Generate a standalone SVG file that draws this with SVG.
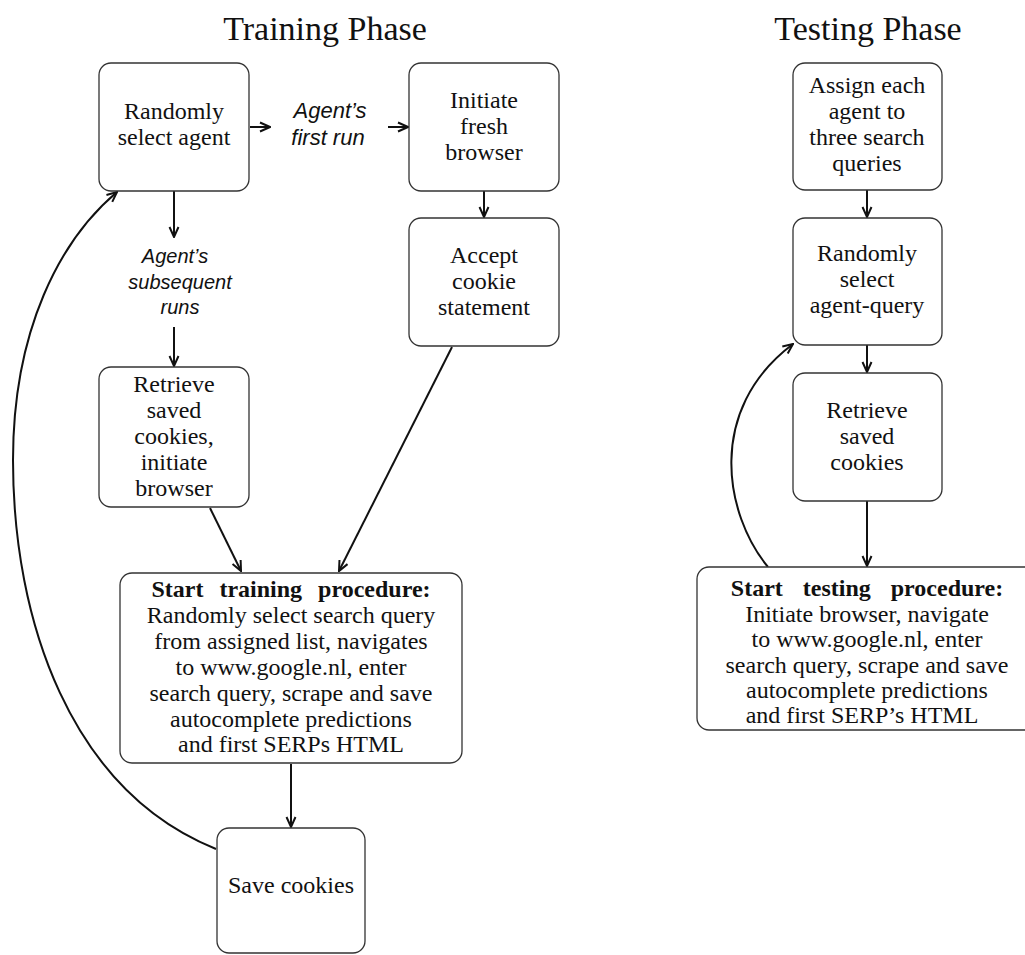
<svg xmlns="http://www.w3.org/2000/svg" width="1025" height="955" viewBox="0 0 1025 955">
<defs>
<style>
.box{fill:#fff;stroke:#333;stroke-width:1.3}
.t{font-family:"Liberation Serif","Times New Roman",serif;font-size:24px;fill:#111;text-anchor:middle}
.b{font-weight:bold}
.lab{font-family:"Liberation Sans",Arial,sans-serif;font-size:20px;font-style:italic;fill:#111;text-anchor:middle}
.big{font-size:22px}
.title{font-family:"Liberation Serif","Times New Roman",serif;font-size:34px;fill:#111;text-anchor:middle}
.c{fill:none;stroke:#111;stroke-width:2}
</style>
<marker id="ah" viewBox="0 0 12 12" refX="11" refY="6" markerWidth="12" markerHeight="12" markerUnits="userSpaceOnUse" orient="auto">
<path d="M1,1.5 L11,6 L1,10.5" fill="none" stroke="#111" stroke-width="2"/>
</marker>
</defs>
<rect width="1025" height="955" fill="#fff"/>
<text class="title" x="325" y="40">Training Phase</text>
<text class="title" x="868" y="40">Testing Phase</text>

<g id="connectors">
<line class="c" x1="250" y1="127" x2="270" y2="127" marker-end="url(#ah)"/>
<line class="c" x1="388" y1="127" x2="408" y2="127" marker-end="url(#ah)"/>
<line class="c" x1="484" y1="191" x2="484" y2="217" marker-end="url(#ah)"/>
<line class="c" x1="174" y1="191" x2="174" y2="237" marker-end="url(#ah)"/>
<line class="c" x1="174" y1="327" x2="174" y2="366" marker-end="url(#ah)"/>
<line class="c" x1="210" y1="508" x2="241" y2="571" marker-end="url(#ah)"/>
<line class="c" x1="452" y1="347" x2="339" y2="571" marker-end="url(#ah)"/>
<line class="c" x1="291" y1="764" x2="291" y2="827" marker-end="url(#ah)"/>
<path class="c" d="M216,849 C70,790 13,620 13,460 C13,330 60,240 117,192" marker-end="url(#ah)"/>
<line class="c" x1="867" y1="190" x2="867" y2="217" marker-end="url(#ah)"/>
<line class="c" x1="867" y1="345" x2="867" y2="372" marker-end="url(#ah)"/>
<line class="c" x1="867" y1="501" x2="867" y2="566" marker-end="url(#ah)"/>
<path class="c" d="M768,567 C725,515 705,410 793,344" marker-end="url(#ah)"/>
<text class="lab big" x="330" y="118">Agent’s</text>
<text class="lab big" x="328" y="145">first run</text>
<text class="lab" x="175" y="263">Agent’s</text>
<text class="lab" x="180" y="289">subsequent</text>
<text class="lab" x="180" y="314">runs</text>
</g>

<g id="n-select-agent">
<rect class="box" x="99" y="63" width="150" height="128" rx="12"/>
<text class="t" x="174" y="119">Randomly</text>
<text class="t" x="174" y="145">select agent</text>
</g>
<g id="n-fresh-browser">
<rect class="box" x="409" y="63" width="150" height="128" rx="12"/>
<text class="t" x="484" y="108">Initiate</text>
<text class="t" x="484" y="134">fresh</text>
<text class="t" x="484" y="160">browser</text>
</g>
<g id="n-accept-cookie">
<rect class="box" x="409" y="218" width="150" height="128" rx="12"/>
<text class="t" x="484" y="263">Accept</text>
<text class="t" x="484" y="289">cookie</text>
<text class="t" x="484" y="315">statement</text>
</g>
<g id="n-retrieve-train">
<rect class="box" x="99" y="367" width="150" height="140" rx="12"/>
<text class="t" x="174" y="392">Retrieve</text>
<text class="t" x="174" y="418">saved</text>
<text class="t" x="174" y="444">cookies,</text>
<text class="t" x="174" y="470">initiate</text>
<text class="t" x="174" y="496">browser</text>
</g>
<g id="n-training">
<rect class="box" x="120" y="573" width="342" height="190" rx="12"/>
<text class="t b" x="291" y="597" word-spacing="10">Start training procedure:</text>
<text class="t" x="291" y="623">Randomly select search query</text>
<text class="t" x="291" y="649">from assigned list, navigates</text>
<text class="t" x="291" y="675">to www.google.nl, enter</text>
<text class="t" x="291" y="701">search query, scrape and save</text>
<text class="t" x="291" y="727">autocomplete predictions</text>
<text class="t" x="291" y="752">and first SERPs HTML</text>
</g>
<g id="n-save-cookies">
<rect class="box" x="217" y="828" width="148" height="125" rx="12"/>
<text class="t" x="291" y="893">Save cookies</text>
</g>

<g id="n-assign">
<rect class="box" x="793" y="63" width="149" height="127" rx="12"/>
<text class="t" x="867" y="93">Assign each</text>
<text class="t" x="867" y="119">agent to</text>
<text class="t" x="867" y="145">three search</text>
<text class="t" x="867" y="171">queries</text>
</g>
<g id="n-agent-query">
<rect class="box" x="793" y="218" width="149" height="127" rx="12"/>
<text class="t" x="867" y="261">Randomly</text>
<text class="t" x="867" y="287">select</text>
<text class="t" x="867" y="313">agent-query</text>
</g>
<g id="n-retrieve-test">
<rect class="box" x="793" y="373" width="149" height="128" rx="12"/>
<text class="t" x="867" y="418">Retrieve</text>
<text class="t" x="867" y="444">saved</text>
<text class="t" x="867" y="470">cookies</text>
</g>
<g id="n-testing">
<rect class="box" x="697" y="567" width="340" height="163" rx="12"/>
<text class="t b" x="867" y="596" word-spacing="14">Start testing procedure:</text>
<text class="t" x="867" y="622">Initiate browser, navigate</text>
<text class="t" x="867" y="647">to www.google.nl, enter</text>
<text class="t" x="867" y="673">search query, scrape and save</text>
<text class="t" x="867" y="698">autocomplete predictions</text>
<text class="t" x="862" y="723">and first SERP’s HTML</text>
</g>
</svg>
